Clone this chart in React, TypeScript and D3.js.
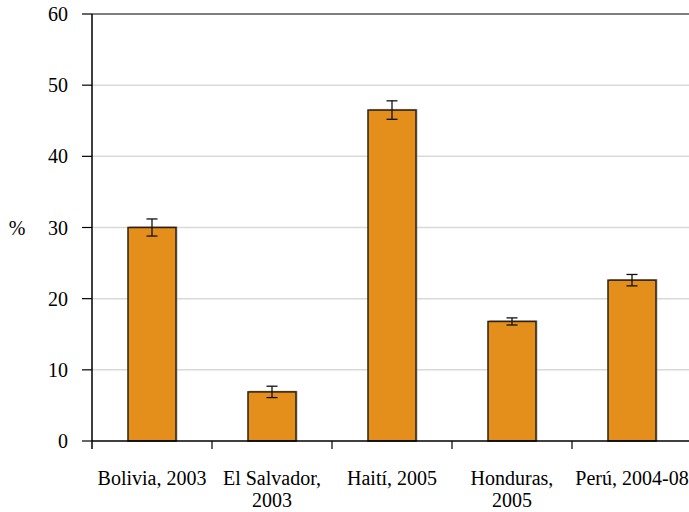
import React from "react";
import * as d3 from "d3";

const categories: string[][] = [
  ["Bolivia, 2003"],
  ["El Salvador,", "2003"],
  ["Haití, 2005"],
  ["Honduras,", "2005"],
  ["Perú, 2004-08"],
];
const values = [30.0, 6.9, 46.5, 16.8, 22.6];
const errors = [1.2, 0.8, 1.3, 0.5, 0.8];
const yTicks = [0, 10, 20, 30, 40, 50, 60];

export default function App() {
  const W = 689, H = 512;
  const left = 92, right = 692, top = 14, bottom = 441;
  const y = d3.scaleLinear().domain([0, 60]).range([bottom, top]);
  const x = d3.scaleBand<number>().domain(values.map((_, i) => i)).range([left, right]).paddingInner(0.6).paddingOuter(0.3);
  const band = (right - left) / values.length;
  const font = "Liberation Serif, Tinos, Times New Roman, DejaVu Serif, serif";
  return (
    <svg width={W} height={H} style={{ position: "absolute", left: 0, top: 0, fontFamily: font }}>
      <rect width={W} height={H} fill="#fff" />
      {yTicks.map((t) => (
        <g key={t}>
          {t > 0 && (
            <line x1={left} x2={W} y1={y(t)} y2={y(t)} stroke={t === 60 ? "#555" : "#d9d9d9"} strokeWidth={1.5} />
          )}
          <line x1={left - 10} x2={left} y1={y(t)} y2={y(t)} stroke="#000" strokeWidth={1.2} />
          <text x={68} y={y(t)} dy="0.35em" textAnchor="end" fontSize={20} style={{ fontFamily: font }}>{t}</text>
        </g>
      ))}
      <text x={17} y={y(30)} dy="0.35em" textAnchor="middle" fontSize={20} style={{ fontFamily: font }}>%</text>
      {values.map((v, i) => {
        const bx = x(i)!;
        const bw = x.bandwidth();
        const cx = bx + bw / 2;
        return (
          <g key={i}>
            <rect x={bx + 1.5} y={y(v) - 1.2} width={bw} height={bottom - y(v) + 1.2} fill="#9a9a9a" opacity={0.7} />
            <rect x={bx} y={y(v)} width={bw} height={bottom - y(v)} fill="#E48E1B" stroke="#2e2010" strokeWidth={1.5} />
            <line x1={cx} x2={cx} y1={y(v + errors[i])} y2={y(v - errors[i])} stroke="#111" strokeWidth={1.3} />
            <line x1={cx - 5.5} x2={cx + 5.5} y1={y(v + errors[i])} y2={y(v + errors[i])} stroke="#111" strokeWidth={1.3} />
            <line x1={cx - 5.5} x2={cx + 5.5} y1={y(v - errors[i])} y2={y(v - errors[i])} stroke="#111" strokeWidth={1.3} />
          </g>
        );
      })}
      <line x1={left} x2={W} y1={bottom} y2={bottom} stroke="#000" strokeWidth={1.5} />
      <line x1={left} x2={left} y1={top} y2={bottom + 8} stroke="#000" strokeWidth={1.5} />
      {values.map((_, i) => (
        <line key={i} x1={left + band * (i + 1)} x2={left + band * (i + 1)} y1={bottom} y2={bottom + 8} stroke="#000" strokeWidth={1.2} />
      ))}
      {categories.map((lines, i) => {
        const cx = x(i)! + x.bandwidth() / 2;
        return (
          <text key={i} x={cx} y={485} textAnchor="middle" fontSize={20} style={{ fontFamily: font }}>
            {lines.map((l, j) => (
              <tspan key={j} x={cx} dy={j === 0 ? 0 : 22}>{l}</tspan>
            ))}
          </text>
        );
      })}
    </svg>
  );
}
